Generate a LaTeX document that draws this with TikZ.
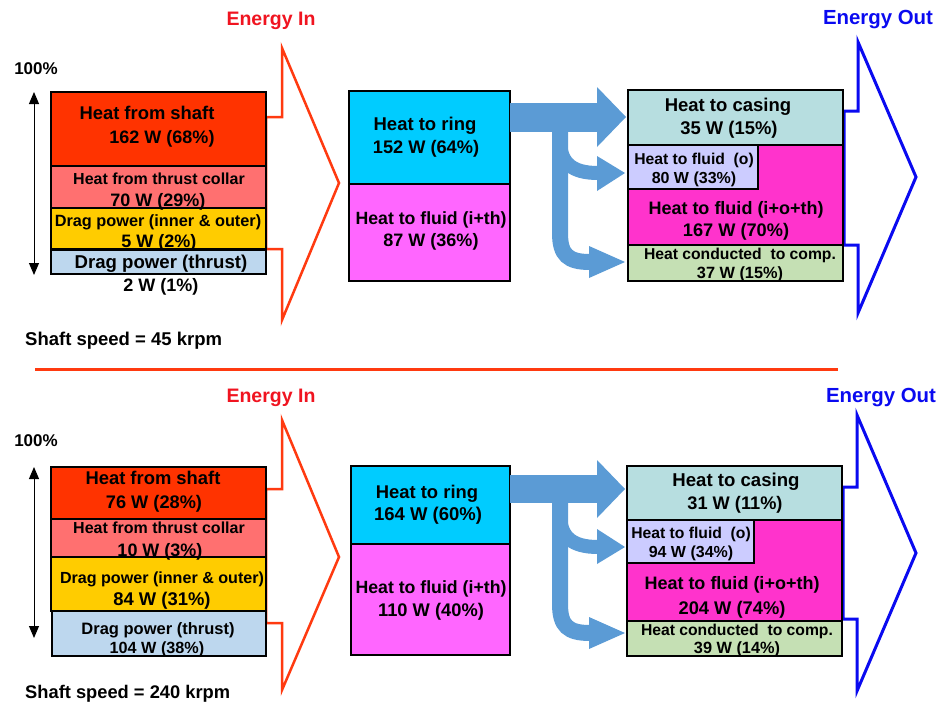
\documentclass[tikz,border=0pt]{standalone}
\usepackage{fontspec}
\setmainfont{Liberation Sans}
\usetikzlibrary{arrows.meta}
\definecolor{cShaft}{HTML}{FF3300}
\definecolor{cCollar}{HTML}{FF7070}
\definecolor{cDragIO}{HTML}{FFCC00}
\definecolor{cDragT}{HTML}{BDD7EE}
\definecolor{cRing}{HTML}{00CCFF}
\definecolor{cFluidA}{HTML}{FF66FF}
\definecolor{cCasing}{HTML}{B7DEE0}
\definecolor{cFluidO}{HTML}{CCCCFF}
\definecolor{cFluidB}{HTML}{FF33CC}
\definecolor{cComp}{HTML}{C5E0B4}
\definecolor{cFlow}{HTML}{5B9BD5}
\definecolor{cInLine}{HTML}{FF3A10}
\definecolor{cInText}{HTML}{F01420}
\definecolor{cOut}{HTML}{0A0AF0}
\tikzset{
  box/.style={draw=black, line width=2pt, anchor=north west, inner sep=0pt, outer sep=0pt},
  t/.style={font=\bfseries\fontsize{#1}{#1}\selectfont, inner sep=0pt, anchor=base},
  flow/.style={draw=cFlow, line cap=butt},
  flowhead/.style={fill=cFlow},
  inarrow/.style={draw=cInLine, line width=2.5pt, line join=miter, fill=white},
  outarrow/.style={draw=cOut, line width=3pt, line join=miter, fill=white},
  span/.style={line width=1pt, {Triangle[width=10pt,length=12pt]}-{Triangle[width=10pt,length=12pt]}},
}
\begin{document}
\begin{tikzpicture}[x=1pt,y=-1pt]
\useasboundingbox (0,0) rectangle (937,704);

% ================= TOP =================
\draw[inarrow] (266,117) -- (282,117) -- (282,48) -- (339,183) -- (282,320) -- (282,249) -- (266,249) -- cycle;
\draw[outarrow] (844,111) -- (858,111) -- (858,42) -- (916,177) -- (858,313) -- (858,245) -- (844,245) -- cycle;
\node[t=19.5, text=cInText] (tEin) at (271,25) {Energy In};
\node[t=20.4, text=cOut] (tEout) at (878,24) {Energy Out};
\node[t=17] (tP) at (36,74) {100\%};
\coordinate (tSpanA) at (34,92);
\coordinate (tSpanB) at (34,275);
\draw[span] (tSpanA) -- (tSpanB);

% left stack
\node[box, fill=cShaft, minimum width=215pt, minimum height=74pt] (ts) at (51,92) {};
\node[box, fill=cCollar, minimum width=215pt, minimum height=42pt] (tc) at (51,166) {};
\node[box, fill=cDragIO, minimum width=215pt, minimum height=41pt] (td) at (51,208) {};
\node[box, fill=cDragT, minimum width=215pt, minimum height=24pt] (tt) at (51,250) {};
\node[t=18.4] (ts1) at (147,119.5) {Heat from shaft};
\node[t=18] (ts2) at (162,143) {162 W (68\%)};
\node[t=16] (tc1) at (159,184) {Heat from thrust collar};
\node[t=18] (tc2) at (158,206) {70 W (29\%)};
\node[t=16.3] (td1) at (158,226) {Drag power (inner \& outer)};
\node[t=18] (td2) at (159,247) {5 W (2\%)};
\node[t=18.6] (tt1) at (161,268.5) {Drag power (thrust)};
\node[t=18] (tt2) at (161,291) {2 W (1\%)};
\node[t=18.5, anchor=base west] (tsp) at (25,345.5) {Shaft speed = 45 krpm};

% middle
\node[box, fill=cRing, minimum width=161pt, minimum height=93pt] (tr) at (349,91) {};
\node[box, fill=cFluidA, minimum width=161pt, minimum height=97pt] (tf) at (349,184) {};
\node[t=18.5] (tr1) at (425,130) {Heat to ring};
\node[t=18.2] (tr2) at (426,153) {152 W (64\%)};
\node[t=17.7] (tf1) at (431,224) {Heat to fluid (i+th)};
\node[t=18] (tf2) at (431,246) {87 W (36\%)};

% flows
\coordinate (tFa) at (510,117.5);
\coordinate (tFb) at (598,117.5);
\coordinate (tFs) at (560,125);
\draw[flow, line width=29pt] (tFa) -- (tFb);
\fill[flowhead] (597,87) -- (626,117) -- (597,147) -- cycle;
\draw[flow, line width=16pt] (tFs) -- (560,233) .. controls (560,255) and (568,262) .. (590,262);
\fill[flowhead] (589,246) -- (625,262) -- (589,278) -- cycle;
\draw[flow, line width=14pt] (tFs) -- (560,140) .. controls (560,163) and (572,173) .. (598,173);
\fill[flowhead] (597,156) -- (625,173) -- (597,191) -- cycle;

% right stack
\node[box, fill=cCasing, minimum width=215pt, minimum height=55pt] (tcs) at (628,90) {};
\node[box, fill=cFluidB, minimum width=215pt, minimum height=100pt] (tfl) at (628,145) {};
\node[box, fill=cFluidO, minimum width=130pt, minimum height=44pt] (tfo) at (628,145) {};
\node[box, fill=cComp, minimum width=215pt, minimum height=36pt] (tcm) at (628,245) {};
\node[t=18.5] (tcs1) at (728,111) {Heat to casing};
\node[t=18.4] (tcs2) at (729,134) {35 W (15\%)};
\node[t=15.7] (tfo1) at (694,164) {Heat to fluid\ \ (o)};
\node[t=16] (tfo2) at (694,183.5) {80 W (33\%)};
\node[t=18] (tfl1) at (736,214) {Heat to fluid (i+o+th)};
\node[t=18.2] (tfl2) at (736,236) {167 W (70\%)};
\node[t=15.7] (tcm1) at (740,259) {Heat conducted\ \ to comp.};
\node[t=16.3] (tcm2) at (740,278.5) {37 W (15\%)};

% separator
\coordinate (sepA) at (35,369);
\coordinate (sepB) at (838,369);
\draw[line width=3pt, draw=cInLine] (sepA) -- (sepB);

% ================= BOTTOM =================
\draw[inarrow] (266,489) -- (282,489) -- (282,420) -- (339,557) -- (282,690) -- (282,623) -- (266,623) -- cycle;
\draw[outarrow] (843,487) -- (857,487) -- (857,415) -- (916,553) -- (857,691) -- (857,619) -- (843,619) -- cycle;
\node[t=19.5, text=cInText] (bEin) at (271,402) {Energy In};
\node[t=20.4, text=cOut] (bEout) at (881,402) {Energy Out};
\node[t=17] (bP) at (36,446) {100\%};
\coordinate (bSpanA) at (34,467);
\coordinate (bSpanB) at (34,638);
\draw[span] (bSpanA) -- (bSpanB);

% left stack
\node[box, fill=cShaft, minimum width=215pt, minimum height=52pt] (bs) at (51,467) {};
\node[box, fill=cCollar, minimum width=215pt, minimum height=38pt] (bc) at (51,519) {};
\node[box, fill=cDragIO, minimum width=215pt, minimum height=54pt] (bd) at (51,557) {};
\node[box, fill=cDragT, minimum width=214pt, minimum height=45pt] (bt) at (52,611) {};
\node[t=18.4] (bs1) at (153,484.5) {Heat from shaft};
\node[t=18.2] (bs2) at (154,508.5) {76 W (28\%)};
\node[t=16] (bc1) at (159,533.5) {Heat from thrust collar};
\node[t=18] (bc2) at (160,556) {10 W (3\%)};
\node[t=16.1] (bd1) at (162,583) {Drag power (inner \& outer)};
\node[t=18.4] (bd2) at (162,605.5) {84 W (31\%)};
\node[t=16.5] (bt1) at (158,634) {Drag power (thrust)};
\node[t=16.2] (bt2) at (157,653) {104 W (38\%)};
\node[t=18.3, anchor=base west] (bsp) at (25,698.5) {Shaft speed = 240 krpm};

% middle
\node[box, fill=cRing, minimum width=159pt, minimum height=78pt] (br) at (351,466) {};
\node[box, fill=cFluidA, minimum width=159pt, minimum height=111pt] (bf) at (351,544) {};
\node[t=18.4] (br1) at (427,498.5) {Heat to ring};
\node[t=18.5] (br2) at (428,520.5) {164 W (60\%)};
\node[t=17.7] (bf1) at (431,593) {Heat to fluid (i+th)};
\node[t=18.3] (bf2) at (431,616.5) {110 W (40\%)};

% flows
\coordinate (bFa) at (510,489);
\coordinate (bFb) at (598,489);
\coordinate (bFs) at (560,497);
\draw[flow, line width=28pt] (bFa) -- (bFb);
\fill[flowhead] (597,460) -- (625,489) -- (597,518) -- cycle;
\draw[flow, line width=16pt] (bFs) -- (560,604) .. controls (560,626) and (568,633) .. (590,633);
\fill[flowhead] (589,617) -- (625,633) -- (589,649) -- cycle;
\draw[flow, line width=14pt] (bFs) -- (560,514) .. controls (560,537) and (572,547) .. (598,547);
\fill[flowhead] (597,529) -- (625,547) -- (597,564) -- cycle;

% right stack
\node[box, fill=cCasing, minimum width=215pt, minimum height=54pt] (bcs) at (627,466) {};
\node[box, fill=cFluidB, minimum width=215pt, minimum height=101pt] (bfl) at (627,520) {};
\node[box, fill=cFluidO, minimum width=127pt, minimum height=43pt] (bfo) at (627,520) {};
\node[box, fill=cComp, minimum width=215pt, minimum height=35pt] (bcm) at (627,621) {};
\node[t=18.6] (bcs1) at (736,486.5) {Heat to casing};
\node[t=18.2] (bcs2) at (735,509.5) {31 W (11\%)};
\node[t=15.7] (bfo1) at (691,538) {Heat to fluid\ \ (o)};
\node[t=16] (bfo2) at (691,557.5) {94 W (34\%)};
\node[t=18] (bfl1) at (732,589) {Heat to fluid (i+o+th)};
\node[t=18.3] (bfl2) at (732,614.5) {204 W (74\%)};
\node[t=15.7] (bcm1) at (737,635) {Heat conducted\ \ to comp.};
\node[t=16.3] (bcm2) at (737,653.5) {39 W (14\%)};
\end{tikzpicture}
\end{document}
